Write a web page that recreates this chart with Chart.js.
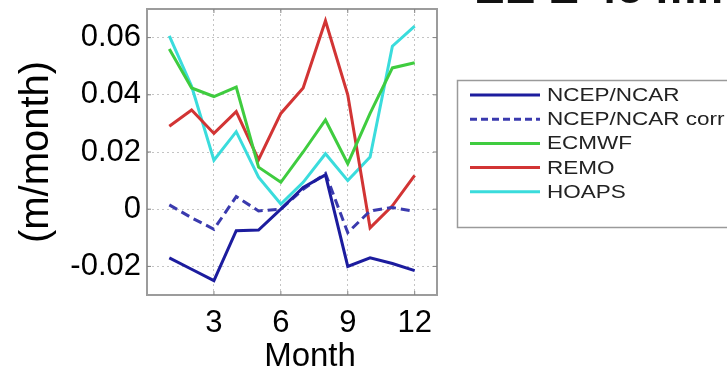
<!DOCTYPE html>
<html>
<head>
<meta charset="utf-8">
<script src="https://cdn.jsdelivr.net/npm/chart.js@4/dist/chart.umd.min.js"></script>
<style>
  html, body { margin: 0; padding: 0; background: #fff; }
  #wrap { position: relative; width: 727px; height: 374px; overflow: hidden; }
  #cabecera {
    position: absolute; left: 474px; top: -36px;
    font: bold 46px "Liberation Sans", Arial, sans-serif;
    line-height: 1; white-space: nowrap; color: #111;
  }
</style>
</head>
<body>
<div id="wrap">
  <canvas id="grafico" width="727" height="374"></canvas>
  <div id="cabecera">EE E 45 mm</div>
</div>
<script>
// Balance mensual (m/month) por fuente de datos
const meses = [1, 2, 3, 4, 5, 6, 7, 8, 9, 10, 11, 12];
const ncep     = [-0.017, -0.021, -0.025, -0.0075, -0.0073, 0.000, 0.0076, 0.012, -0.020, -0.017, -0.019, -0.0215];
const ncepCorr = [0.0015, -0.003, -0.007, 0.0044, -0.0006, 0.000, 0.007, 0.0125, -0.0082, -0.0006, 0.0006, -0.0008];
const ecmwf    = [0.056, 0.0424, 0.0394, 0.0427, 0.0147, 0.0094, 0.020, 0.0312, 0.0159, 0.0335, 0.0494, 0.0512];
const remo     = [0.029, 0.0347, 0.0265, 0.0341, 0.0173, 0.0335, 0.0424, 0.0659, 0.040, -0.0065, 0.0012, 0.0118];
const hoaps    = [0.0606, 0.043, 0.0171, 0.0271, 0.0112, 0.0018, 0.0094, 0.0194, 0.010, 0.0182, 0.057, 0.064];

const ticsMes = [3, 6, 9, 12];
const ticsY = [-0.02, 0, 0.02, 0.04, 0.06];

const FUENTE = '"Liberation Sans", Arial, sans-serif';

// marco gris del área de trazado + marcas pequeñas hacia dentro
const marco = {
    id: 'marco',
    beforeDatasetsDraw(chart) {
        const { ctx, chartArea: a, scales } = chart;
        ctx.save();
        ctx.strokeStyle = '#9c9c9c';
        ctx.lineWidth = 2;
        ctx.strokeRect(a.left, a.top, a.right - a.left, a.bottom - a.top);
        ctx.lineWidth = 1;
        ctx.strokeStyle = '#808080';
        ctx.beginPath();
        ticsMes.forEach(v => {
            const x = scales.x.getPixelForValue(v);
            ctx.moveTo(x, a.bottom); ctx.lineTo(x, a.bottom - 4);
            ctx.moveTo(x, a.top); ctx.lineTo(x, a.top + 4);
        });
        ticsY.forEach(v => {
            const y = scales.y.getPixelForValue(v);
            ctx.moveTo(a.left, y); ctx.lineTo(a.left + 4, y);
            ctx.moveTo(a.right, y); ctx.lineTo(a.right - 4, y);
        });
        ctx.stroke();
        ctx.restore();
    },
    afterDraw(chart) {
        // etiqueta del eje x, algo desplazada a la derecha
        const ctx = chart.ctx;
        ctx.save();
        ctx.fillStyle = '#000';
        ctx.font = '33px ' + FUENTE;
        ctx.textAlign = 'center';
        ctx.textBaseline = 'middle';
        ctx.fillText('Month', 310, 357);
        ctx.restore();
    }
};

// leyenda en caja a la derecha del gráfico
const leyendaCaja = {
    id: 'leyendaCaja',
    afterDraw(chart) {
        const ctx = chart.ctx;
        ctx.save();
        ctx.strokeStyle = '#9a9a9a';
        ctx.lineWidth = 1.5;
        ctx.strokeRect(457.5, 80.5, 300, 147);
        chart.data.datasets.forEach((ds, i) => {
            const y = 95 + i * 24.2;
            ctx.beginPath();
            ctx.setLineDash(ds.legendDash || []);
            ctx.strokeStyle = ds.borderColor;
            ctx.lineWidth = 3;
            ctx.moveTo(470, y);
            ctx.lineTo(540, y);
            ctx.stroke();
            ctx.setLineDash([]);
            ctx.save();
            ctx.translate(547, y);
            ctx.scale(1.25, 1);
            ctx.fillStyle = '#222';
            ctx.font = '18px ' + FUENTE;
            ctx.textBaseline = 'middle';
            ctx.fillText(ds.label, 0, 1);
            ctx.restore();
        });
        ctx.restore();
    }
};

const serie = (label, data, color, extra) => Object.assign({
    label, data,
    borderColor: color,
    backgroundColor: color,
    borderWidth: 3,
    pointRadius: 0,
    tension: 0,
    fill: false
}, extra || {});

new Chart(document.getElementById('grafico').getContext('2d'), {
    type: 'line',
    data: {
        labels: meses,
        datasets: [
            serie('NCEP/NCAR', ncep, '#1c1c9e'),
            serie('NCEP/NCAR corr', ncepCorr, '#3a3aae', { borderDash: [9, 5], legendDash: [7, 4] }),
            serie('ECMWF', ecmwf, '#3fcc3f'),
            serie('REMO', remo, '#d23434'),
            serie('HOAPS', hoaps, '#3adcdc')
        ]
    },
    options: {
        responsive: false,
        devicePixelRatio: 1,
        animation: false,
        layout: { padding: { top: 9, right: 290, bottom: 0, left: 0 } },
        plugins: {
            legend: { display: false },
            tooltip: { enabled: false }
        },
        scales: {
            x: {
                type: 'linear',
                min: 0, max: 13,
                afterBuildTicks: s => { s.ticks = ticsMes.map(v => ({ value: v })); },
                afterFit: s => { s.height = 79; s.paddingLeft = 0; s.paddingRight = 0; },
                grid: { color: '#c4c4c4', lineWidth: 1, drawTicks: false },
                border: { display: false, dash: [2, 3] },
                ticks: { color: '#000', padding: 10, maxRotation: 0, font: { family: FUENTE, size: 31 } }
            },
            y: {
                min: -0.03, max: 0.07,
                afterBuildTicks: s => { s.ticks = ticsY.map(v => ({ value: v })); },
                afterFit: s => { s.width = 147; s.paddingTop = 0; s.paddingBottom = 0; },
                grid: { color: '#c4c4c4', lineWidth: 1, drawTicks: false },
                border: { display: false, dash: [2, 3] },
                ticks: {
                    color: '#000', padding: 6,
                    font: { family: FUENTE, size: 31 },
                    callback: v => v === 0 ? '0' : v.toFixed(2)
                },
                title: {
                    display: true,
                    text: '(m/month)',
                    color: '#000',
                    font: { family: FUENTE, size: 40, lineHeight: 1 },
                    padding: { top: 17, bottom: 0 }
                }
            }
        }
    },
    plugins: [marco, leyendaCaja]
});
</script>
</body>
</html>
